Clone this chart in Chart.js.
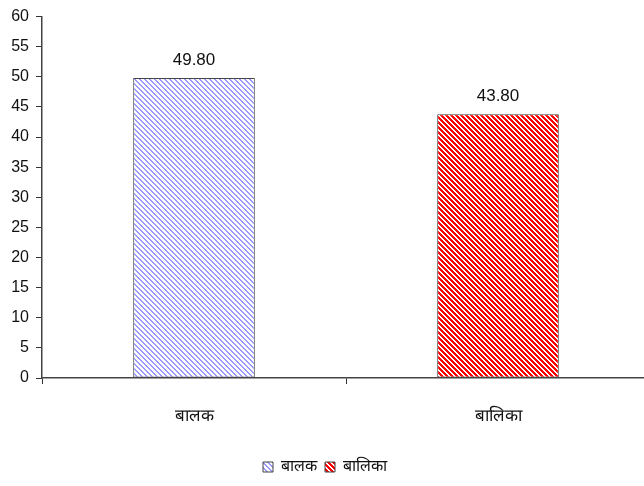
<!DOCTYPE html>
<html>
<head>
<meta charset="utf-8">
<script src="https://cdn.jsdelivr.net/npm/chart.js@4.4.1/dist/chart.umd.min.js"></script>
<style>
  html, body { margin: 0; padding: 0; background: #fff; }
  #wrap { width: 644px; height: 486px; overflow: hidden; }
</style>
</head>
<body>
<div id="wrap"><canvas id="c" width="650" height="486"></canvas></div>
<script>
// ---------- data ----------
const CATEGORIES = ['बालक', 'बालिका'];
const SERIES_LABELS = ['बालक', 'बालिका'];
const VALUES_BALAK = [49.8, null];
const VALUES_BALIKA = [null, 43.8];
const Y_TICKS = [0, 5, 10, 15, 20, 25, 30, 35, 40, 45, 50, 55, 60];

const FONT = "'Liberation Sans', Arial, sans-serif";

// hatched fill: "\" diagonal stripes on white, drawn pixel by pixel so it stays crisp
function hatch(rgb, period, width) {
  const cv = document.createElement('canvas');
  cv.width = period; cv.height = period;
  const g = cv.getContext('2d');
  const img = g.createImageData(period, period);
  for (let y = 0; y < period; y++) {
    for (let x = 0; x < period; x++) {
      const d = ((x - y) % period + period) % period;
      const on = d < width;
      const i = (y * period + x) * 4;
      img.data[i]     = on ? rgb[0] : 255;
      img.data[i + 1] = on ? rgb[1] : 255;
      img.data[i + 2] = on ? rgb[2] : 255;
      img.data[i + 3] = 255;
    }
  }
  g.putImageData(img, 0, 0);
  return g.createPattern(cv, 'repeat');
}

const BLUE = hatch([153, 153, 255], 5, 2);
const RED = hatch([255, 0, 0], 5, 3);

// value labels above bars
const valueLabels = {
  id: 'valueLabels',
  afterDatasetsDraw(chart) {
    const ctx = chart.ctx;
    ctx.save();
    ctx.font = '17px ' + FONT;
    ctx.fillStyle = '#111';
    ctx.textAlign = 'center';
    ctx.textBaseline = 'middle';
    chart.data.datasets.forEach((ds, i) => {
      chart.getDatasetMeta(i).data.forEach((bar, j) => {
        const v = ds.data[j];
        if (v == null) return;
        ctx.fillText(v.toFixed(2), bar.x, bar.y - 18);
      });
    });
    ctx.restore();
  }
};

new Chart(document.getElementById('c'), {
  type: 'bar',
  data: {
    labels: CATEGORIES,
    datasets: [
      { label: SERIES_LABELS[0], data: VALUES_BALAK, backgroundColor: BLUE,
        borderColor: '#444', borderWidth: 1, borderSkipped: false },
      { label: SERIES_LABELS[1], data: VALUES_BALIKA, backgroundColor: RED,
        borderColor: '#444', borderWidth: 1, borderSkipped: false },
    ],
  },
  options: {
    responsive: false,
    animation: false,
    devicePixelRatio: 1,
    layout: { padding: { top: 12, right: 0, bottom: 1, left: 0 } },
    datasets: { bar: { grouped: false, barPercentage: 0.4, categoryPercentage: 1 } },
    plugins: {
      tooltip: { enabled: false },
      legend: {
        position: 'bottom',
        labels: {
          boxWidth: 10, boxHeight: 10, padding: 8,
          color: '#111', font: { family: FONT, size: 16 },
        },
      },
    },
    scales: {
      x: {
        offset: true,
        grid: { offset: true, drawOnChartArea: false, drawTicks: true, tickLength: 6, color: '#333' },
        border: { color: '#444', width: 1.5 },
        ticks: { color: '#111', font: { family: FONT, size: 17 }, padding: 22 },
        afterFit: (s) => { s.height = 73; },
      },
      y: {
        min: 0, max: 60,
        afterBuildTicks: (s) => { s.ticks = Y_TICKS.map(v => ({ value: v })); },
        grid: { drawOnChartArea: false, drawTicks: true, tickLength: 6, color: '#333' },
        border: { color: '#444', width: 1.5 },
        ticks: { color: '#111', font: { family: FONT, size: 16 }, padding: 7 },
        afterFit: (s) => { s.width = 42; },
      },
    },
  },
  plugins: [valueLabels],
});
</script>
</body>
</html>
